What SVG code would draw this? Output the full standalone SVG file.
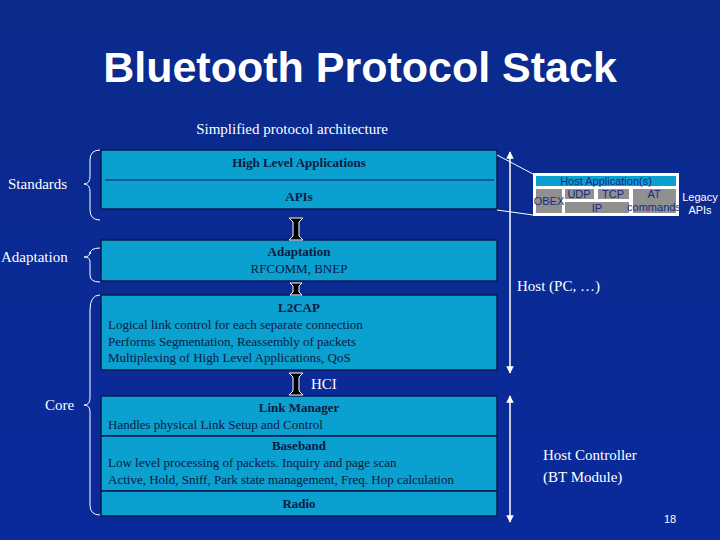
<svg xmlns="http://www.w3.org/2000/svg" width="720" height="540" viewBox="0 0 720 540">
<defs>
<linearGradient id="bg" x1="0" y1="0" x2="0" y2="1"><stop offset="0" stop-color="#0a2a8c"/><stop offset="1" stop-color="#0a2a9c"/></linearGradient>
<marker id="ah" viewBox="0 0 10 10" refX="9" refY="5" markerWidth="5" markerHeight="5" orient="auto-start-reverse"><path d="M0,0 L10,5 L0,10 z" fill="#fff"/></marker>
</defs>
<style>
.box{fill:#0aa0d0;stroke:#0a1a50;stroke-width:1.5}
.b{font-family:"Liberation Serif",serif;font-size:13px;font-weight:bold;fill:#0a1a40;text-anchor:middle}
.t{font-family:"Liberation Serif",serif;font-size:13px;fill:#0a1a40}
.w{font-family:"Liberation Serif",serif;font-size:15px;fill:#fff}
.brace{fill:none;stroke:#fff;stroke-width:1}
.dbl{fill:#000;stroke:#fff;stroke-width:1}
.g{fill:#909090}
.s{font-family:"Liberation Sans",sans-serif;font-size:11px;fill:#1a2a80;text-anchor:middle}
</style>
<rect width="720" height="540" fill="url(#bg)"/>
<text x="360" y="82" font-family="Liberation Sans,sans-serif" font-size="43" font-weight="bold" fill="#fff" text-anchor="middle">Bluetooth Protocol Stack</text>
<text x="292" y="134" class="w" text-anchor="middle">Simplified protocol architecture</text>
<g id="labels">
<text x="8" y="189" class="w">Standards</text>
<text x="1" y="262" class="w">Adaptation</text>
<text x="45" y="410" class="w">Core</text>
<path class="brace" d="M100,150 Q90,150 90,160 L90,176 Q90,184 84,184 Q90,184 90,192 L90,210 Q90,220 100,220"/>
<path class="brace" d="M100,248 Q90,248 90,254 L90,252 Q90,257 84,257 Q90,257 90,262 L90,275 Q90,282 100,282"/>
<path class="brace" d="M100,295 Q90,295 90,310 L90,398 Q90,405 84,405 Q90,405 90,412 L90,505 Q90,515 100,515"/>
</g>
<g id="stack">
<rect class="box" x="101" y="150" width="396" height="59"/>
<line x1="105" y1="180" x2="494" y2="180" stroke="#0a1a50"/>
<text x="299" y="167" class="b">High Level Applications</text>
<text x="299" y="201" class="b">APIs</text>
<rect class="box" x="101" y="240" width="396" height="41"/>
<text x="299" y="256" class="b">Adaptation</text>
<text x="299" y="273" class="t" text-anchor="middle">RFCOMM, BNEP</text>
<rect class="box" x="101" y="295" width="396" height="75"/>
<text x="299" y="312" class="b">L2CAP</text>
<text x="108" y="329" class="t">Logical link control for each separate connection</text>
<text x="108" y="346" class="t">Performs Segmentation, Reassembly of packets</text>
<text x="108" y="362" class="t">Multiplexing of High Level Applications, QoS</text>
<rect class="box" x="101" y="396" width="396" height="40"/>
<text x="299" y="412" class="b">Link Manager</text>
<text x="108" y="429" class="t">Handles physical Link Setup and Control</text>
<rect class="box" x="101" y="436" width="396" height="55"/>
<text x="299" y="450" class="b">Baseband</text>
<text x="108" y="467" class="t">Low level processing of packets. Inquiry and page scan</text>
<text x="108" y="484" class="t">Active, Hold, Sniff, Park state management, Freq. Hop calculation</text>
<rect class="box" x="101" y="491" width="396" height="25"/>
<text x="299" y="508" class="b">Radio</text>
</g>
<g id="connectors">
<path class="dbl" d="M289,218 L303,218 L299,222 L299,236 L303,240 L289,240 L293,236 L293,222 Z"/>
<path class="dbl" d="M290,283 L302,283 L299,286 L299,292 L302,295 L290,295 L293,292 L293,286 Z"/>
<path class="dbl" d="M289,373 L303,373 L299,377 L299,391 L303,395 L289,395 L293,391 L293,377 Z"/>
<text x="311" y="389" class="w" font-size="13">HCI</text>
<line x1="510" y1="152" x2="510" y2="373" stroke="#fff" stroke-width="1.5" marker-start="url(#ah)" marker-end="url(#ah)"/>
<line x1="510" y1="396" x2="510" y2="522" stroke="#fff" stroke-width="1.5" marker-start="url(#ah)" marker-end="url(#ah)"/>
<line x1="497" y1="155" x2="533" y2="174" stroke="#fff"/>
<line x1="497" y1="210" x2="533" y2="215" stroke="#fff"/>
</g>
<g id="inset">
<rect x="533" y="173" width="146" height="43" fill="#fff"/>
<rect x="536" y="176" width="140" height="10" fill="#0aa0d0"/>
<text x="606" y="185" class="s">Host Application(s)</text>
<rect class="g" x="536" y="189" width="26" height="24"/>
<text x="549" y="205" class="s">OBEX</text>
<rect class="g" x="565" y="189" width="29" height="10"/>
<text x="579" y="198" class="s">UDP</text>
<rect class="g" x="598" y="189" width="31" height="10"/>
<text x="613" y="198" class="s">TCP</text>
<rect class="g" x="565" y="202" width="64" height="11"/>
<text x="597" y="212" class="s">IP</text>
<rect class="g" x="633" y="189" width="43" height="24"/>
<text x="654" y="198" class="s">AT</text>
<text x="654" y="211" class="s">commands</text>
<text x="700" y="201" font-family="Liberation Sans,sans-serif" font-size="11" fill="#fff" text-anchor="middle">Legacy</text>
<text x="700" y="214" font-family="Liberation Sans,sans-serif" font-size="11" fill="#fff" text-anchor="middle">APIs</text>
</g>
<text x="517" y="291" class="w">Host (PC, …)</text>
<text x="543" y="460" class="w">Host Controller</text>
<text x="543" y="482" class="w">(BT Module)</text>
<text x="670" y="523" font-family="Liberation Sans,sans-serif" font-size="11" fill="#fff" text-anchor="middle">18</text>
</svg>
